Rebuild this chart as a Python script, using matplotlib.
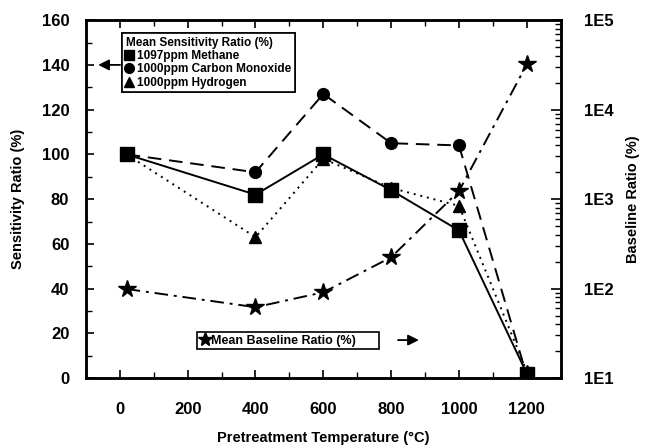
import numpy as np
import matplotlib.pyplot as plt
from matplotlib.lines import Line2D
from matplotlib.ticker import MultipleLocator, FixedLocator, FixedFormatter, LogLocator, NullFormatter

plt.rcParams['font.family'] = ['Liberation Sans', 'DejaVu Sans']
plt.rcParams['font.weight'] = 'bold'
plt.rcParams['axes.labelweight'] = 'bold'

# pretreatment temperature (C)
temperature = [20, 400, 600, 800, 1000, 1200]

# mean sensitivity ratio (%)
methane = [100, 82, 100, 84, 66, 2]
carbon_monoxide = [100, 92, 127, 105, 104, 1]
hydrogen = [100, 63, 98, 85, 77, 3]

# mean baseline ratio (%), log scale
baseline = [99, 62, 91, 224, 1230, 32000]

left_ticks = [0, 20, 40, 60, 80, 100, 120, 140, 160]
x_ticks = [0, 200, 400, 600, 800, 1000, 1200]
right_ticks = [1e1, 1e2, 1e3, 1e4, 1e5]
right_labels = ['1E1', '1E2', '1E3', '1E4', '1E5']

fig = plt.figure(figsize=(6.46, 4.48), dpi=100)
ax = fig.add_axes([0.133, 0.156, 0.735, 0.799])
ax2 = ax.twinx()

lw = 1.4
ax.plot(temperature, carbon_monoxide, color='black', lw=lw, dashes=(7, 4),
        marker='o', ms=8.5, zorder=3)
ax.plot(temperature, hydrogen, color='black', lw=lw, dashes=(1, 2.5),
        marker='^', ms=9, zorder=3)
ax.plot(temperature, methane, color='black', lw=lw, ls='-',
        marker='s', ms=9.5, zorder=4)
ax2.plot(temperature, baseline, color='black', lw=lw, dashes=(7, 3, 1.5, 3),
         marker='*', ms=13, zorder=3)

ax.set_xlim(-100, 1300)
ax.set_ylim(0, 160)
ax2.set_yscale('log')
ax2.set_ylim(10, 1e5)

ax.xaxis.set_major_locator(FixedLocator(x_ticks))
ax.xaxis.set_minor_locator(MultipleLocator(100))
ax.yaxis.set_major_locator(FixedLocator(left_ticks))
ax.yaxis.set_minor_locator(MultipleLocator(10))
ax2.yaxis.set_major_locator(FixedLocator(right_ticks))
ax2.yaxis.set_major_formatter(FixedFormatter(right_labels))
ax2.yaxis.set_minor_locator(LogLocator(base=10, subs=np.arange(2, 10)))
ax2.yaxis.set_minor_formatter(NullFormatter())

ax.tick_params(axis='both', which='major', direction='in', length=6, width=1.2,
               labelsize=12, top=True)
ax.tick_params(axis='both', which='minor', direction='in', length=4, width=1.0, top=True)
ax.tick_params(axis='x', which='major', pad=17)
ax.tick_params(axis='y', which='major', pad=12)
ax2.tick_params(axis='y', which='major', direction='in', length=7, width=1.2,
                labelsize=12, pad=17)
ax2.tick_params(axis='y', which='minor', direction='in', length=4, width=1.0)
for a in (ax, ax2):
    for s in a.spines.values():
        s.set_linewidth(1.8)

ax.set_xlabel('Pretreatment Temperature (\u00b0C)', fontsize=10.5, labelpad=10)
ax.set_ylabel('Sensitivity Ratio (%)', fontsize=10.5, labelpad=12)
ax2.set_ylabel('Baseline Ratio (%)', fontsize=10.5, labelpad=9)

# sensitivity legend with arrow to the left axis
handles = [Line2D([], [], color='black', ls='none', marker='s', ms=7),
           Line2D([], [], color='black', ls='none', marker='o', ms=7),
           Line2D([], [], color='black', ls='none', marker='^', ms=7)]
leg = ax.legend(handles, ['1097ppm Methane', '1000ppm Carbon Monoxide', '1000ppm Hydrogen'],
                title='Mean Sensitivity Ratio (%)', loc='upper left',
                bbox_to_anchor=(0.076, 0.964), fancybox=False, framealpha=1,
                edgecolor='black', fontsize=8.5, title_fontsize=8.5,
                handlelength=0.6, handletextpad=0.4, labelspacing=0.12,
                borderpad=0.3, borderaxespad=0, alignment='left')
leg.get_frame().set_linewidth(1.2)
leg.get_title().set_fontweight('bold')
ax.add_artist(leg)
ax.annotate('', xy=(-72, 140), xytext=(9, 140),
            arrowprops=dict(arrowstyle='-|>', color='black', lw=1.3, mutation_scale=16))

# baseline legend with arrow to the right axis
leg2 = ax2.legend([Line2D([], [], color='black', ls='none', marker='*', ms=10)],
                  ['Mean Baseline Ratio (%)      '], loc='upper left',
                  bbox_to_anchor=(0.234, 0.128), fancybox=False, framealpha=1,
                  edgecolor='black', fontsize=9, handlelength=0.8,
                  handletextpad=0.1, borderpad=0.2, borderaxespad=0)
leg2.get_frame().set_linewidth(1.2)
ax.annotate('', xy=(890, 17), xytext=(812, 17),
            arrowprops=dict(arrowstyle='-|>', color='black', lw=1.3, mutation_scale=16))

fig.savefig('out.png', dpi=100)
